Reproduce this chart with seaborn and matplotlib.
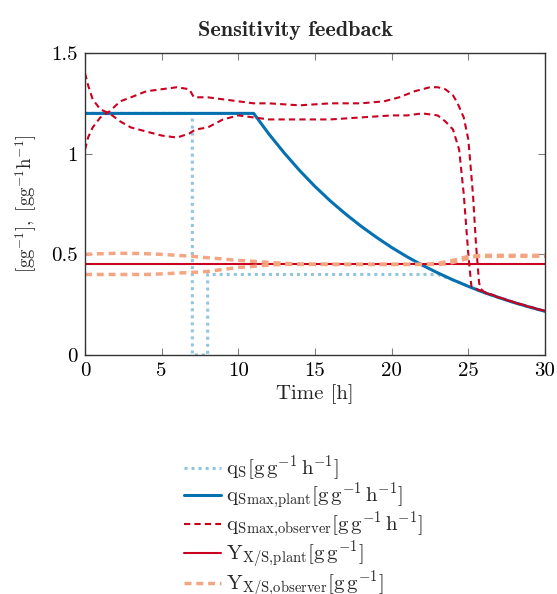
import numpy as np
import pandas as pd
import matplotlib
matplotlib.use("Agg")
import matplotlib.pyplot as plt
import seaborn as sns

# ---------------- data ----------------
t_qs = [0, 7, 7, 8, 8, 23, 24, 25, 26, 27, 28, 29, 30]
qs = [1.2, 1.2, 0.0, 0.0, 0.40, 0.40, 0.373, 0.341, 0.311, 0.285, 0.26, 0.238, 0.217]

t_plant = [0, 11, 12, 13, 14, 15, 16, 17, 18, 19, 20, 21, 22, 23, 24, 25, 26, 27, 28, 29, 30]
qsmax_plant = [1.2, 1.2, 1.097, 1.003, 0.916, 0.837, 0.765, 0.70, 0.64, 0.585, 0.534,
               0.488, 0.446, 0.408, 0.373, 0.341, 0.311, 0.285, 0.26, 0.238, 0.217]

t_obs_a = [0, 0.2, 0.5, 1.0, 1.6, 2.3, 3, 4, 5, 6, 6.8, 7.2, 8, 9, 10, 11, 12, 14, 16, 18,
           20, 21, 22, 23, 23.5, 24, 24.4, 24.7, 25.0, 25.2, 26, 27, 28, 29, 30]
qsmax_obs_a = [1.40, 1.34, 1.27, 1.22, 1.20, 1.16, 1.13, 1.11, 1.09, 1.08, 1.10, 1.12, 1.13,
               1.17, 1.19, 1.18, 1.17, 1.17, 1.17, 1.18, 1.19, 1.19, 1.20, 1.19, 1.16, 1.12,
               1.02, 0.80, 0.50, 0.34, 0.311, 0.285, 0.26, 0.238, 0.217]

t_obs_b = [0, 0.2, 0.5, 1.0, 1.6, 2.3, 3, 4, 5, 6, 6.8, 7.1, 8, 9, 10, 11, 12, 14, 16, 18,
           19.5, 20.5, 21.5, 22.5, 23, 23.5, 24, 24.3, 24.7, 25.0, 25.3, 25.5, 25.7, 25.8,
           26, 27, 28, 29, 30]
qsmax_obs_b = [1.02, 1.08, 1.13, 1.18, 1.21, 1.26, 1.28, 1.31, 1.32, 1.33, 1.32, 1.28, 1.28,
               1.27, 1.26, 1.25, 1.25, 1.24, 1.25, 1.25, 1.26, 1.28, 1.31, 1.33, 1.33, 1.32,
               1.29, 1.25, 1.18, 1.07, 0.80, 0.55, 0.36, 0.33, 0.315, 0.287, 0.262, 0.24, 0.219]

t_y_plant = [0, 30]
y_plant = [0.45, 0.45]

t_y_obs_a = [0, 1, 2, 3, 4, 5, 6, 7, 8, 9, 10, 11, 12, 13, 14, 16, 20, 22, 23, 24, 25, 26, 30]
y_obs_a = [0.50, 0.503, 0.505, 0.505, 0.503, 0.50, 0.495, 0.49, 0.483, 0.477, 0.47, 0.465,
           0.46, 0.455, 0.452, 0.45, 0.45, 0.45, 0.455, 0.47, 0.49, 0.495, 0.495]

t_y_obs_b = [0, 1, 2, 3, 4, 5, 6, 7, 8, 9, 10, 11, 12, 13, 14, 16, 20, 23, 23.5, 24, 25, 25.5, 30]
y_obs_b = [0.40, 0.40, 0.40, 0.40, 0.40, 0.403, 0.407, 0.41, 0.415, 0.425, 0.435, 0.44,
           0.447, 0.45, 0.45, 0.45, 0.45, 0.45, 0.452, 0.46, 0.48, 0.49, 0.49]

x_ticks = [0, 5, 10, 15, 20, 25, 30]
y_ticks = [0, 0.5, 1, 1.5]
y_tick_labels = ["0", "0.5", "1", "1.5"]

labels = [
    r"$\mathrm{q_S}[\mathrm{g\,g^{-1}\,h^{-1}}]$",
    r"$\mathrm{q_{Smax{,}plant}}[\mathrm{g\,g^{-1}\,h^{-1}}]$",
    r"$\mathrm{q_{Smax{,}observer}}[\mathrm{g\,g^{-1}\,h^{-1}}]$",
    r"$\mathrm{Y_{X/S{,}plant}}[\mathrm{g\,g^{-1}}]$",
    r"$\mathrm{Y_{X/S{,}observer}}[\mathrm{g\,g^{-1}}]$",
]

# ---------------- style ----------------
sns.set_style("ticks")
plt.rcParams["font.family"] = ["cmr10", "DejaVu Serif"]
plt.rcParams["mathtext.fontset"] = "cm"
plt.rcParams["axes.formatter.use_mathtext"] = True

c_qs = "#92c5de"
c_blue = "#0571b0"
c_red = "#ca0020"
c_salmon = "#f4a582"

fig = plt.figure(figsize=(5.57, 5.94), dpi=100)
ax = fig.add_axes([85 / 557, 1 - 355 / 594, 460 / 557, 302 / 594])

def draw(t, v, color, lw, ls=None, dashes=None, label=None):
    df = pd.DataFrame({"t": t, "v": v})
    kw = dict(color=color, linewidth=lw, estimator=None, sort=False, ax=ax, label=label)
    line_kw = {}
    if dashes is not None:
        line_kw["dashes"] = dashes
    else:
        line_kw["linestyle"] = ls
    sns.lineplot(data=df, x="t", y="v", **kw, **line_kw)

draw(t_qs, qs, c_qs, 2.2, dashes=(1.0, 1.3), label=labels[0])
draw(t_plant, qsmax_plant, c_blue, 2.2, ls="-", label=labels[1])
draw(t_obs_a, qsmax_obs_a, c_red, 1.5, dashes=(3, 2), label=labels[2])
draw(t_obs_b, qsmax_obs_b, c_red, 1.5, dashes=(3, 2), label="_nolegend_")
draw(t_y_plant, y_plant, c_red, 1.5, ls="-", label=labels[3])
draw(t_y_obs_a, y_obs_a, c_salmon, 2.5, dashes=(2, 1.4), label=labels[4])
draw(t_y_obs_b, y_obs_b, c_salmon, 2.5, dashes=(2, 1.4), label="_nolegend_")

ax.set_xlim(0, 30)
ax.set_ylim(0, 1.5)
ax.set_xticks(x_ticks)
ax.set_xticklabels([str(v) for v in x_ticks])
ax.set_yticks(y_ticks)
ax.set_yticklabels(y_tick_labels)
ax.tick_params(direction="in", length=5, width=0.8, color="#808080",
               top=True, right=True, labelsize=15, pad=5, labelcolor="black")
for s in ax.spines.values():
    s.set_color("#333333")
    s.set_linewidth(1.0)

ax.set_xlabel("Time [h]", fontsize=15, labelpad=3)
ax.set_ylabel(r"$[\mathrm{gg}^{\mathbf{-1}}],\ [\mathrm{gg}^{\mathbf{-1}}\mathrm{h}^{\mathbf{-1}}]$",
              fontsize=13.5, labelpad=9)
ax.set_title("Sensitivity feedback", fontfamily="cmb10", fontsize=16, pad=12,
             x=(295 - 85) / 460)

if ax.get_legend():
    ax.get_legend().remove()
handles, labs = ax.get_legend_handles_labels()
fig.legend(handles, labs, loc="upper left", bbox_to_anchor=(176 / 557, 1 - 446 / 594),
           frameon=False, fontsize=15, handlelength=1.75, handletextpad=0.25,
           labelspacing=-0.12, borderaxespad=0)

fig.savefig("out.png", dpi=100)
